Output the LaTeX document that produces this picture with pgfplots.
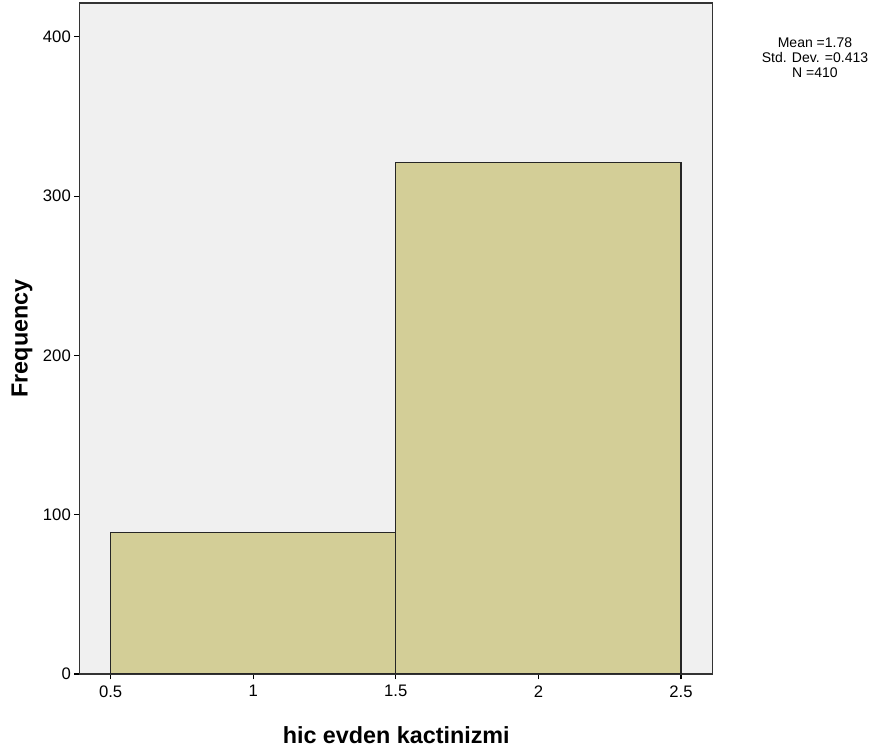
\documentclass[border=0pt]{standalone}
\usepackage{pgfplots}
\pgfplotsset{compat=1.18}
\usepackage{fontspec}
\setmainfont{Liberation Sans}
\definecolor{bgc}{RGB}{240,240,240}
\definecolor{barc}{RGB}{211,206,151}
\begin{document}
\begin{tikzpicture}
\path[use as bounding box] (0pt,0pt) rectangle (670.5pt,562.5pt);
\begin{axis}[
  at={(59.625pt,57pt)}, anchor=south west,
  scale only axis, width=475.1pt, height=503.25pt,
  xmin=0.391, xmax=2.612, ymin=0, ymax=421.3,
  xtick={0.5,1,1.5,2,2.5}, ytick={0,100,200,300,400},
  xticklabels={0.5,1,1.5,2,2.5},
  tick align=outside, major tick length=4pt,
  tick style={black, line width=0.8pt},
  xtick pos=bottom, ytick pos=left,
  axis background/.style={fill=bgc},
  axis line style={black!80, line width=0.8pt},
  tick label style={font=\fontsize{12.5}{14}\selectfont},
  xticklabel style={yshift=-1pt},
  yticklabel style={xshift=1pt},
  /pgf/number format/assume math mode=true,
  xlabel={\bfseries hic evden kactinizmi},
  ylabel={\bfseries Frequency},
  label style={font=\fontsize{17.5}{20}\selectfont},
  xlabel style={yshift=-15pt},
  ylabel style={yshift=1pt},
]
\addplot[ybar interval, fill=barc, draw=black!85, line width=0.9pt] coordinates {(0.5,89) (1.5,321) (2.5,321)};
\end{axis}
\node[align=center, font=\fontsize{10.5}{11.25}\selectfont, inner sep=0pt] at (611.25pt,519pt) {Mean =1.78\\Std. Dev. =0.413\\N =410};
\end{tikzpicture}
\end{document}
